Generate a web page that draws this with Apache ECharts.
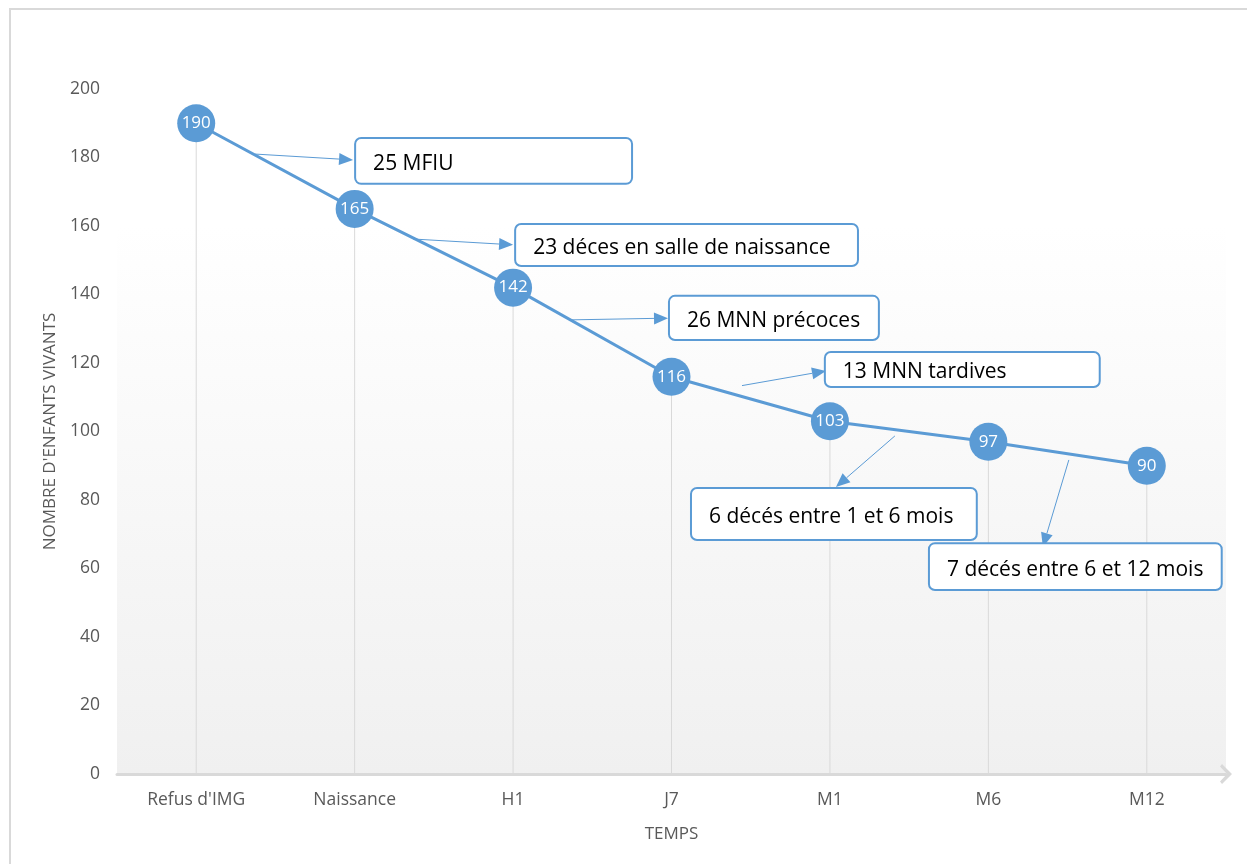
<!DOCTYPE html>
<html>
<head>
<meta charset="utf-8">
<script src="https://cdn.jsdelivr.net/npm/echarts@6/dist/echarts.min.js"></script>
<style>
html,body{margin:0;padding:0;background:#fff;}
#chart{width:1247px;height:864px;}
</style>
</head>
<body>
<div id="chart"></div>
<script>
// ---- data ----
const categories = ["Refus d'IMG", "Naissance", "H1", "J7", "M1", "M6", "M12"];
const vivants = [190, 165, 142, 116, 103, 97, 90];
const yTicks = { min: 0, max: 200, interval: 20 };
const annoTexts = ["25 MFIU", "23 déces en salle de naissance", "26 MNN précoces", "13 MNN tardives", "6 décés entre 1 et 6 mois", "7 décés entre 6 et 12 mois"];
// callout anchors in data space: [category index, value]
const annoBoxTL = [[1.003, 185.7], [2.013, 160.6], [2.984, 139.6], [3.968, 123.2], [3.123, 83.5], [4.625, 67.4]];
const annoBoxBR = [[2.751, 172.3], [4.177, 148.3], [4.309, 126.7], [5.703, 113.0], [4.927, 68.3], [6.473, 53.7]];
const annoArrowFrom = [[0.372, 181.0], [1.369, 156.2], [2.372, 132.6], [3.445, 113.4], [4.41, 98.7], [5.508, 91.7]];
const annoArrowTo = [[0.99, 179.3], [2.0, 154.5], [2.978, 133.1], [3.975, 117.7], [4.038, 83.8], [5.344, 66.3]];

const blue = '#5b9bd5';
const chart = echarts.init(document.getElementById('chart'));
const option = {
  animation: false,
  backgroundColor: '#ffffff',
  grid: {
    left: 117, right: 21, top: 89, bottom: 90,
    show: true, borderWidth: 0,
    backgroundColor: new echarts.graphic.LinearGradient(0, 0, 0, 1, [
      { offset: 0, color: '#ffffff' },
      { offset: 0.2, color: '#ffffff' },
      { offset: 1, color: '#f0f0f0' }
    ])
  },
  xAxis: {
    type: 'category',
    data: categories,
    boundaryGap: true,
    name: 'TEMPS',
    nameLocation: 'middle',
    nameGap: 52,
    nameTextStyle: { color: '#595959', fontSize: 17, fontFamily: 'Open Sans' },
    axisLine: {
      show: true,
      lineStyle: { color: '#d9d9d9', width: 3 },
      symbol: ['none', 'path://M0,10 L10,0 L20,10 L17.5,12 L10,5 L2.5,12 Z'],
      symbolSize: [20, 12],
      symbolOffset: [0, 0]
    },
    axisTick: { show: false },
    axisLabel: { color: '#595959', fontSize: 17.5, fontFamily: 'Open Sans', margin: 17 },
    splitLine: { show: false }
  },
  yAxis: {
    type: 'value',
    min: yTicks.min, max: yTicks.max, interval: yTicks.interval,
    name: "NOMBRE D'ENFANTS VIVANTS",
    nameLocation: 'middle',
    nameGap: 58,
    nameRotate: 90,
    nameTextStyle: { color: '#595959', fontSize: 17, fontFamily: 'Open Sans' },
    axisLine: { show: false },
    axisTick: { show: false },
    axisLabel: { color: '#595959', fontSize: 17.5, fontFamily: 'Open Sans', margin: 17 },
    splitLine: { show: false }
  },
  series: [
    {
      type: 'bar',
      data: vivants,
      barWidth: 1,
      itemStyle: { color: '#d9d9d9' },
      silent: true,
      z: 1
    },
    {
      type: 'line',
      data: vivants,
      symbol: 'circle',
      symbolSize: 38,
      lineStyle: { color: blue, width: 3 },
      itemStyle: { color: blue },
      label: {
        show: true, position: 'inside', color: '#ffffff',
        fontSize: 17, fontFamily: 'Open Sans'
      },
      z: 3
    }
  ]
};
chart.setOption(option);

function px(pt) {
  const a = chart.convertToPixel({ gridIndex: 0 }, [0, pt[1]]);
  const b = chart.convertToPixel({ gridIndex: 0 }, [1, pt[1]]);
  return [a[0] + (b[0] - a[0]) * pt[0], a[1]];
}

const graphics = [{
  type: 'rect', silent: true, z: -10,
  shape: { x: 10, y: 9, width: 1400, height: 1000 },
  style: { fill: 'none', stroke: '#d9d9d9', lineWidth: 2 }
}];
annoTexts.forEach(function (t, i) {
  const tl = px(annoBoxTL[i]), br = px(annoBoxBR[i]);
  const from = px(annoArrowFrom[i]), to = px(annoArrowTo[i]);
  const dx = to[0] - from[0], dy = to[1] - from[1];
  const len = Math.sqrt(dx * dx + dy * dy);
  const ux = dx / len, uy = dy / len;
  const hl = 14, hw = 6;
  const base = [to[0] - ux * hl, to[1] - uy * hl];
  graphics.push({
    type: 'line', silent: true, z: 50,
    shape: { x1: from[0], y1: from[1], x2: base[0], y2: base[1] },
    style: { stroke: blue, lineWidth: 1 }
  });
  graphics.push({
    type: 'polygon', silent: true, z: 50,
    shape: { points: [to, [base[0] - uy * hw, base[1] + ux * hw], [base[0] + uy * hw, base[1] - ux * hw]] },
    style: { fill: blue }
  });
  graphics.push({
    type: 'rect', silent: true, z: 60,
    shape: { x: tl[0], y: tl[1], width: br[0] - tl[0], height: br[1] - tl[1], r: 6 },
    style: { fill: '#ffffff', stroke: blue, lineWidth: 2 }
  });
  graphics.push({
    type: 'text', silent: true, z: 61,
    x: tl[0] + 18, y: (tl[1] + br[1]) / 2 + 3,
    style: {
      text: t, fill: '#000000', fontSize: 21, fontFamily: 'Open Sans',
      verticalAlign: 'middle', align: 'left'
    }
  });
});
chart.setOption({ graphic: graphics });
</script>
</body>
</html>
